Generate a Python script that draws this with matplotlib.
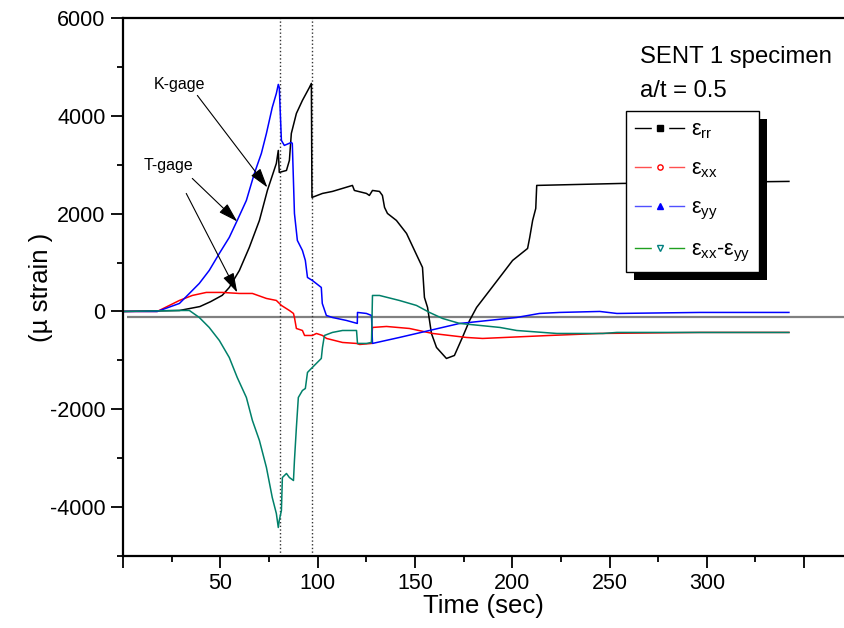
import matplotlib
matplotlib.use("Agg")
import matplotlib.pyplot as plt
from matplotlib.patches import Rectangle
from matplotlib.transforms import IdentityTransform
from matplotlib.ticker import MultipleLocator

plt.rcParams['font.family'] = ['Liberation Sans', 'DejaVu Sans']
plt.rcParams['mathtext.fontset'] = 'custom'
plt.rcParams['mathtext.rm'] = 'Liberation Sans'
plt.rcParams['axes.unicode_minus'] = False

# datos (tiempo en s, deformacion en micro strain)
t_rr = [0, 29, 39.5, 45, 51, 54.6, 59.8, 64.9, 70.1, 74.2, 78.8, 79.8, 80.3, 84,
        85.5, 86.5, 89.1, 92.2, 95.8, 96.8, 97.1, 102.5, 107.6, 117.9, 118.9,
        125.1, 126.6, 128.2, 131.8, 133.3, 134.4, 135.9, 140.5, 145.7, 149.8,
        153.9, 154.9, 156.5, 157.5, 158.5, 161.1, 166.2, 170.3, 174.4, 178.1,
        181.7, 188.4, 195.1, 200.2, 207.9, 209, 210.5, 212.1, 212.6, 256.8, 342.2]
e_rr = [0, 20, 100, 200, 330, 490, 838, 1309, 1861, 2475, 3027, 3292, 2843, 2883,
        3088, 3640, 4049, 4315, 4581, 4663, 2331, 2413, 2454, 2577, 2474,
        2413, 2372, 2474, 2454, 2372, 2127, 2004, 1861, 1595, 1247,
        900, 286, 82, -184, -450, -736, -961, -900, -532, -184,
        82, 429, 777, 1043, 1288, 1513, 1861, 2106, 2577, 2618, 2659]

t_xx = [0, 17.6, 29, 35.6, 42.8, 51, 59.8, 66.5, 73.7, 78.8, 81.4, 85.5, 87.6,
        88.1, 89.1, 92.2, 93.3, 97.3, 99.4, 102.5, 104.6, 112.8, 120, 121.6,
        127.7, 128.2, 135.4, 147.2, 159.1, 176.6, 184.8, 219.2, 245, 296.5, 342.2]
e_xx = [0, 0, 225, 327, 389, 389, 368, 368, 266, 225, 123, 20, -41,
        -123, -348, -389, -491, -491, -450, -491, -552, -634, -654, -675,
        -654, -327, -307, -348, -450, -532, -552, -491, -450, -429, -429]

t_yy = [0, 17.6, 29, 34.1, 39.2, 44.3, 49.5, 54.6, 58.7, 63.4, 67.5, 71.1, 73.7,
        76.7, 78.8, 79.8, 80.3, 81.4, 82.9, 86.5, 87, 88.1, 89.6, 92.2, 93.7,
        94.8, 97.3, 101.9, 102.4, 104.5, 107.6, 114.8, 120.4, 120.5, 125.1,
        127.7, 128.2, 142, 157.5, 173, 178, 202.3, 214, 224.4, 245, 253.8,
        296.5, 342.2]
e_yy = [0, 0, 164, 368, 573, 838, 1186, 1513, 1861, 2270, 2822, 3231, 3640,
        4172, 4458, 4642, 4581, 3497, 3395, 3456, 3436, 2004, 1452, 1247, 1043,
        695, 634, 491, 164, -82, -123, -184, -245, -20, -41,
        -82, -654, -532, -389, -245, -225, -123, -41, -20, 0, -41,
        -20, -20]

t_diff = [0, 30, 34.1, 39.2, 44.3, 49.5, 54.6, 58.7, 63.4, 66.5, 70.1, 73.7,
          76.7, 78.8, 79.8, 80.3, 81.4, 81.9, 84, 85.5, 87.6, 88.1, 89.1, 90.1,
          92.2, 93.7, 94.8, 97.3, 101.9, 102.5, 103.5, 107.6, 112.8, 120,
          120.5, 125.1, 127.7, 128.2, 131.8, 142, 150.8, 157.5, 164.2, 173,
          183.4, 193.7, 202.3, 222.9, 246.6, 253.8, 296.5, 342.2]
e_diff = [0, 20, 20, -123, -327, -593, -941, -1350, -1759, -2229, -2638, -3190,
          -3804, -4131, -4417, -4274, -4070, -3395, -3313, -3395, -3456, -3047,
          -2372, -1759, -1616, -1575, -1247, -1145, -961, -736, -491, -429,
          -389, -389, -654, -654, -634, 327, 327, 225, 123, -20, -143, -245,
          -286, -327, -389, -450, -450, -429, -429, -429]

x_ticks = [0, 50, 100, 150, 200, 250, 300, 350]
x_labels = ['', '50', '100', '150', '200', '250', '300', '']
y_ticks = [-4000, -2000, 0, 2000, 4000, 6000]
marcas = [80.7, 97.0]
etiquetas = [r'$\mathregular{ε_{rr}}$', r'$\mathregular{ε_{xx}}$',
             r'$\mathregular{ε_{yy}}$',
             r'$\mathregular{ε_{xx}}$-$\mathregular{ε_{yy}}$']

fig = plt.figure(figsize=(8.44, 6.28), dpi=100)
ax = fig.add_axes([123/844, 1 - 556/628, 721/844, 538/628])

ax.hlines(-120, 2, 375, color='#808080', lw=1.6, zorder=1)
for xm in marcas:
    ax.axvline(xm, color='#333333', ls=':', lw=1.0, zorder=1)

ax.plot(t_rr, e_rr, color='black', lw=1.1)
ax.plot(t_xx, e_xx, color='red', lw=1.1)
ax.plot(t_yy, e_yy, color='blue', lw=1.1)
ax.plot(t_diff, e_diff, color='#00806a', lw=1.1)

# entradas de la leyenda: linea - marcador - linea
def entrada(c_linea, marcador, cara, borde):
    fondo, = ax.plot([], [], color=c_linea, lw=1, marker='s', ms=11,
                     mfc='white', mec='white')
    marca, = ax.plot([], [], ls='none', marker=marcador, ms=3.8, mfc=cara,
                     mec=borde, mew=1)
    return (fondo, marca)

handles = [entrada('black', 's', 'black', 'black'),
           entrada('#ff5050', 'o', 'white', 'red'),
           entrada('#5050ff', '^', 'blue', 'blue'),
           entrada('#20a020', 'v', 'white', '#008080')]
leg = ax.legend(handles, etiquetas,
                loc='upper left', bbox_to_anchor=(0.698, 0.827), borderaxespad=0,
                fontsize=15.5, handlelength=2.3, handletextpad=0.3, labelspacing=0.8,
                fancybox=False, framealpha=1, edgecolor='black', numpoints=1,
                borderpad=0.4)
leg.get_frame().set_linewidth(1.0)

ax.text(0.717, 0.916, 'SENT 1 specimen', transform=ax.transAxes, fontsize=17.2)
ax.text(0.717, 0.853, 'a/t = 0.5', transform=ax.transAxes, fontsize=17.2)

ax.text(29, 4650, 'K-gage', fontsize=11.5, ha='center', va='center')
ax.text(23.5, 2990, 'T-gage', fontsize=11.5, ha='center', va='center')
flecha = dict(arrowstyle='-|>,head_length=0.6,head_width=0.18', color='black',
              lw=0.8, mutation_scale=20, shrinkA=0, shrinkB=0)
ax.annotate('', xy=(74.2, 2536), xytext=(38.2, 4417), arrowprops=flecha)
ax.annotate('', xy=(58.7, 1840), xytext=(35.6, 2720), arrowprops=flecha)
ax.annotate('', xy=(58.7, 389), xytext=(32.5, 2413), arrowprops=flecha)

ax.set_xlim(0, 370.5)
ax.set_ylim(-5000, 6000)
ax.set_xticks(x_ticks)
ax.set_xticklabels(x_labels)
ax.xaxis.set_minor_locator(MultipleLocator(25))
ax.set_yticks(y_ticks)
ax.yaxis.set_minor_locator(MultipleLocator(1000))
ax.tick_params(which='major', direction='out', length=8.5, width=1.3,
               labelsize=15.5, pad=4)
ax.tick_params(which='minor', direction='out', length=4.5, width=1.3)
ax.tick_params(top=False, right=False, which='both')
ax.spines['right'].set_visible(False)
for s in ['left', 'bottom', 'top']:
    ax.spines[s].set_linewidth(1.6)

ax.set_xlabel('Time (sec)', fontsize=18.5, labelpad=0)
ax.set_ylabel('(µ strain )', fontsize=18.5, labelpad=-2)

# sombra negra de la leyenda
fig.canvas.draw()
bb = leg.get_window_extent()
sombra = Rectangle((bb.x0 + 8, bb.y0 - 8), bb.width, bb.height,
                   transform=IdentityTransform(), facecolor='black',
                   edgecolor='none', zorder=4.9, clip_on=False)
ax.add_patch(sombra)

plt.savefig('out.png', dpi=100)
